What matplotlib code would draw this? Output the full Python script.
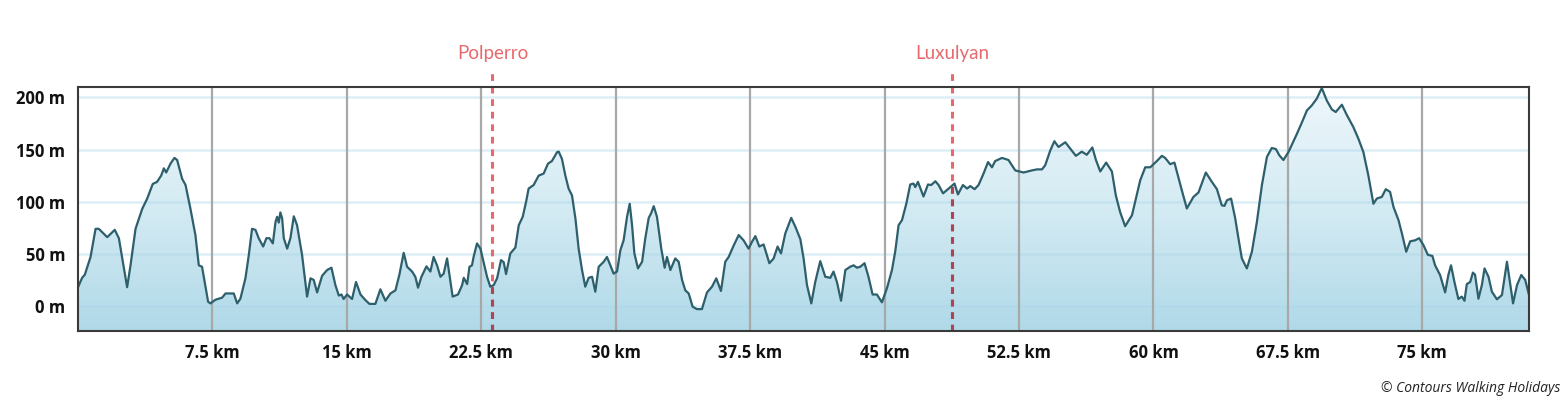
import numpy as np
import matplotlib
matplotlib.use("Agg")
import matplotlib.pyplot as plt
from matplotlib.colors import LinearSegmentedColormap

# ---------------- data ----------------
dist_km = [
    0.0, 0.23, 0.38, 0.7, 0.98, 1.16, 1.63, 2.05, 2.28, 2.74, 2.93, 3.21, 3.58, 3.86,
    4.17, 4.41, 4.64, 4.79, 4.92, 5.16, 5.38, 5.53, 5.81, 6.0, 6.27, 6.55, 6.74, 6.92,
    7.26, 7.39, 7.67, 8.04, 8.23, 8.69, 8.88, 9.06, 9.34, 9.53, 9.71, 9.9, 10.08, 10.33,
    10.51, 10.68, 10.87, 11.02, 11.11, 11.2, 11.29, 11.39, 11.48, 11.67, 11.85, 12.04,
    12.22, 12.5, 12.78, 12.97, 13.15, 13.34, 13.62, 13.9, 14.14, 14.36, 14.55, 14.7,
    14.82, 15.01, 15.29, 15.51, 15.76, 16.03, 16.26, 16.59, 16.87, 17.15, 17.43, 17.71,
    17.93, 18.17, 18.36, 18.64, 18.82, 18.97, 19.16, 19.44, 19.66, 19.84, 20.03, 20.22,
    20.4, 20.59, 20.78, 20.9, 21.2, 21.43, 21.52, 21.71, 21.84, 21.98, 22.07, 22.26,
    22.45, 22.63, 22.82, 23.0, 23.19, 23.38, 23.6, 23.75, 23.88, 24.12, 24.4, 24.59,
    24.81, 25.0, 25.14, 25.42, 25.7, 25.98, 26.22, 26.44, 26.73, 26.82, 27.0, 27.19,
    27.37, 27.56, 27.75, 27.93, 28.12, 28.3, 28.49, 28.68, 28.86, 29.05, 29.33, 29.51,
    29.7, 29.88, 30.07, 30.26, 30.44, 30.63, 30.78, 30.91, 31.04, 31.24, 31.47, 31.65,
    31.84, 31.97, 32.12, 32.3, 32.54, 32.73, 32.86, 33.05, 33.32, 33.51, 33.7, 33.88,
    34.07, 34.29, 34.53, 34.81, 35.09, 35.37, 35.61, 35.87, 36.11, 36.3, 36.58, 36.86,
    37.13, 37.41, 37.6, 37.79, 38.01, 38.25, 38.57, 38.81, 39.03, 39.22, 39.46, 39.79,
    40.02, 40.3, 40.48, 40.67, 40.91, 41.13, 41.41, 41.69, 41.97, 42.15, 42.34, 42.57,
    42.81, 43.08, 43.27, 43.46, 43.64, 43.88, 44.1, 44.33, 44.57, 44.85, 45.13, 45.41,
    45.59, 45.78, 45.97, 46.21, 46.43, 46.61, 46.71, 46.86, 47.17, 47.42, 47.6, 47.83,
    48.01, 48.26, 48.57, 48.9, 49.09, 49.37, 49.6, 49.78, 50.02, 50.24, 50.52, 50.77,
    50.99, 51.17, 51.55, 51.91, 52.29, 52.75, 53.22, 53.5, 53.78, 53.96, 54.24, 54.47,
    54.7, 55.08, 55.35, 55.67, 56.0, 56.28, 56.59, 56.79, 57.03, 57.36, 57.68, 57.9,
    58.14, 58.42, 58.8, 58.98, 59.26, 59.54, 59.82, 60.19, 60.47, 60.65, 60.93, 61.17,
    61.58, 61.86, 62.23, 62.51, 62.92, 63.22, 63.54, 63.81, 63.96, 64.1, 64.33, 64.56,
    64.71, 64.93, 65.21, 65.49, 65.77, 66.05, 66.33, 66.6, 66.83, 67.02, 67.25, 67.53,
    68.0, 68.28, 68.56, 68.83, 69.11, 69.39, 69.67, 69.95, 70.17, 70.51, 70.79, 71.15,
    71.43, 71.71, 71.99, 72.27, 72.46, 72.74, 72.96, 73.2, 73.39, 73.67, 73.86, 74.1,
    74.32, 74.6, 74.82, 75.06, 75.31, 75.56, 75.71, 75.99, 76.27, 76.45, 76.6, 76.79,
    77.01, 77.2, 77.35, 77.48, 77.67, 77.82, 77.94, 78.13, 78.32, 78.47, 78.69, 78.88,
    79.16, 79.44, 79.72, 79.91, 80.06, 80.28, 80.52, 80.74, 80.95,
]
elev_m = [
    18, 27, 30, 47, 74, 74, 66, 73, 65, 18, 39, 74, 93, 103,
    117, 119, 125, 132, 128, 136.5, 142, 140, 122, 116, 93.5, 68, 39, 37.6,
    4, 2.5, 6, 8, 12, 12, 2.5, 7, 26.5, 49, 74, 73, 65, 57,
    65, 65, 60, 80.7, 85.5, 80, 89.7, 84, 65, 55, 65, 86,
    77.5, 49, 9, 26.5, 25, 13, 29, 34.5, 36.7, 20, 10, 11,
    6.7, 11, 6.7, 23, 11, 5.7, 2, 2, 16, 5, 12, 15,
    30, 51, 37.6, 33, 28, 17.5, 28, 38, 33, 47, 39, 28,
    31, 45.6, 23, 9, 11, 20, 27, 21, 37.6, 39, 47, 60,
    55, 42, 28, 18.5, 20, 26.5, 44, 42, 30.6, 50.4, 56, 77.5,
    85.5, 100, 112.6, 116, 125, 127, 136.5, 139, 147.6, 148, 141, 125,
    112.6, 106, 84, 55, 34.5, 18.5, 27, 28, 13.7, 37.6, 42.4, 47,
    39, 31, 33, 53.6, 63, 85.5, 98, 77.5, 50.4, 36, 42.4, 65,
    84.5, 88.7, 95.7, 85.5, 55, 36.7, 47, 34.5, 45.6, 42.4, 25, 15,
    12, -0.7, -3, -3, 13, 18.5, 26.5, 14.4, 42.4, 47, 58, 68,
    63, 55, 61.5, 67, 57, 59, 41, 45.6, 57, 50.4, 69.6, 84.5,
    76, 64, 45.6, 20, 2.5, 23, 43, 28, 27, 33, 23, 5,
    34.5, 37.6, 39, 36.7, 37.6, 41, 28, 11, 11, 3.5, 17, 34.5,
    52, 77.5, 82.3, 98, 116.5, 117.4, 114, 119, 105, 116.5, 116, 119.6,
    116, 108, 112.6, 117.4, 107, 116, 112.6, 115, 112, 116, 127, 138,
    133, 139, 142, 140, 130, 128, 130, 131, 131, 135, 149, 158,
    152.5, 157, 151, 144, 148, 145, 152, 140, 129, 137.5, 129, 106,
    90, 76.5, 87, 100, 120.5, 133, 133, 139, 144, 142, 136, 137.5,
    111, 93.5, 104.6, 108.8, 128, 120, 112, 96.6, 96, 101.4, 103, 84,
    68, 45.6, 36, 52, 80.7, 116, 143, 151.5, 150.5, 144.5, 140, 147.6,
    165, 176, 187.5, 192.3, 198.8, 209, 197, 188.5, 186, 193, 183, 171.6,
    160.5, 147.6, 125, 98, 103, 104.6, 112, 109.4, 95, 82.3, 69.6, 52,
    62, 63, 65, 58.4, 49, 48, 39, 29.7, 13, 29.7, 39, 23,
    6.7, 9, 5, 21, 23, 32, 30, 7, 20, 36, 28, 13.7,
    6.4, 10.5, 42.4, 20, 2.5, 20, 29.7, 25, 10.5,
]
x_ticks = [7.5, 15, 22.5, 30, 37.5, 45, 52.5, 60, 67.5, 75]
x_tick_labels = ["7.5 km", "15 km", "22.5 km", "30 km", "37.5 km", "45 km",
                 "52.5 km", "60 km", "67.5 km", "75 km"]
y_ticks = [0, 50, 100, 150, 200]
y_tick_labels = ["0 m", "50 m", "100 m", "150 m", "200 m"]
places = ["Polperro", "Luxulyan"]
place_km = [23.12, 48.77]
credit = "\u00a9 Contours Walking Holidays"

# ---------------- layout ----------------
XMAX = 80.95
YMIN, YMAX = -24, 210

fig = plt.figure(figsize=(15.64, 4.03), dpi=100)
ax = fig.add_axes([78 / 1564, 1 - 331 / 403, (1529 - 78) / 1564, (331 - 87) / 403])
ax.set_xlim(0, XMAX)
ax.set_ylim(YMIN, YMAX)

x = np.array(dist_km)
y = np.array(elev_m)

# gradient fill under the profile
verts = np.vstack([[x[0], YMIN], np.column_stack([x, y]), [x[-1], YMIN]])
poly = plt.Polygon(verts, closed=True, facecolor="none", edgecolor="none")
ax.add_patch(poly)
cmap = LinearSegmentedColormap.from_list("g", ["#eef7fb", "#d4ebf3", "#b0d9e8"])
grad = np.linspace(1, 0, 256).reshape(-1, 1)
im = ax.imshow(1 - grad, extent=[0, XMAX, YMIN, YMAX], origin="upper", aspect="auto",
               cmap=cmap, zorder=1)
im.set_clip_path(poly)

# grid lines
for yt in y_ticks:
    ax.axhline(yt, color="#a9d5ea", alpha=0.4, lw=1.8, zorder=2)
for xt in x_ticks:
    ax.axvline(xt, color="#a8a8a8", lw=1.6, zorder=2)

# profile line
ax.plot(x, y, color="#2e5f6c", lw=1.6, zorder=3, solid_joinstyle="round")

# place markers
for name, km in zip(places, place_km):
    ax.plot([km, km], [YMIN, 228], color="#e8696d", lw=2.2, ls=(0, (2.2, 1.9)),
            clip_on=False, zorder=5)
    seg, = ax.plot([km, km], [YMIN, 228], color="#b0434f", lw=2.2, ls=(0, (2.2, 1.9)),
                   zorder=6)
    seg.set_clip_path(poly)
    ax.text(km, 242, name, color="#e8696d", fontsize=13.5, ha="center", va="center",
            family="Lato", fontweight="normal", clip_on=False)

# ticks
ax.set_xticks(x_ticks)
ax.set_xticklabels(x_tick_labels)
ax.set_yticks(y_ticks)
ax.set_yticklabels(y_tick_labels)
ax.tick_params(length=0)
ax.tick_params(axis="x", pad=9)
ax.tick_params(axis="y", pad=9)
for lab in ax.get_xticklabels() + ax.get_yticklabels():
    lab.set_fontfamily("Open Sans")
    lab.set_fontweight("bold")
    lab.set_fontsize(12)
    lab.set_color("#111111")

for sp in ax.spines.values():
    sp.set_color("#3a3a3a")
    sp.set_linewidth(1.5)
    sp.set_zorder(7)

fig.text(1560 / 1564, 1 - 388 / 403, credit, ha="right", va="center",
         fontsize=10, style="italic", family="Open Sans", color="#222222")

fig.savefig("out.png", dpi=100)
